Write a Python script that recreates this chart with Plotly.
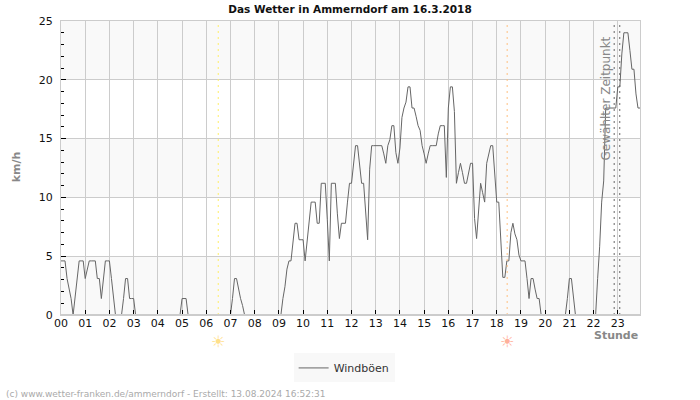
import plotly.graph_objects as go

title = "Das Wetter in Ammerndorf am 16.3.2018"
series_name = "Windböen"
hour_labels = ["%02d" % h for h in range(24)]
y_ticks = [0, 5, 10, 15, 20, 25]
sunrise = 6.495
sunset = 18.43
selected = [22.85, 23.08]

h00 = [4.6,4.6,4.6,3.1,2.2,1.4,0,1.4,3.1,4.6,4.6,4.6]
h01 = [3.1,3.9,4.6,4.6,4.6,4.6,3.1,3.1,1.4,3.1,4.6,4.6]
h02 = [4.6,3.1,1.4,0,0,0,0,1.4,3.1,3.1,1.4,1.4]
h03 = [1.4,0,0,0,0,0,0,0,0,0,0,0]
h04 = [0,0,0,0,0,0,0,0,0,0,0,0]
h05 = [1.4,1.4,1.4,0,0,0,0,0,0,0,0,0]
h06 = [0,0,0,0,0,0,0,0,0,0,0,0]
h07 = [0,1.4,3.1,3.1,2.2,1.4,0.8,0,0,0,0,0]
h08 = [0,0,0,0,0,0,0,0,0,0,0,0]
h09 = [0,0,1.4,2.4,3.9,4.6,4.6,6.4,7.8,7.8,6.4,6.4]
h10 = [6.4,4.6,6.4,7.8,9.6,9.6,9.6,7.8,7.8,11.2,11.2,11.2]
h11 = [8.1,4.6,11.2,11.2,11.2,8.6,6.5,7.8,7.8,7.8,9.6,11.2]
h12 = [11.2,12.9,14.4,14.4,12.9,11.2,11.2,8.6,6.4,12.4,14.4,14.4]
h13 = [14.4,14.4,14.4,14.4,13.7,12.9,14.4,14.9,16.1,16.1,13.8,12.9]
h14 = [14.2,16.8,17.6,18.1,19.4,19.4,17.6,17.6,16.9,16.1,15.7,14.4]
h15 = [13.7,12.9,13.7,14.4,14.4,14.4,14.4,15.4,16.1,16.1,16.1,11.7]
h16 = [17.6,19.4,19.4,17.3,11.2,12.1,12.9,12.1,11.2,11.2,12.1,12.9]
h17 = [12.9,8.2,6.5,8.9,11.2,10.4,9.6,12.9,13.6,14.4,14.4,12.0]
h18 = [9.6,9.6,6.6,3.2,3.2,4.6,4.6,7.0,7.8,6.9,6.4,5.1]
h19 = [4.6,4.6,4.6,3.1,1.4,3.1,3.1,2.2,1.4,1.4,0,0]
h20 = [0,0,0,0,0,0,0,0,0,0,0,1.4]
h21 = [3.1,3.1,1.4,0,0,0,0,0,0,0,0,0]
h22 = [0,0,3.1,5.8,9.6,11.4,17.6,17.6,17.6,17.6,17.6,17.6]
h23 = [19.4,19.4,22.2,24,24,24,22.5,20.9,20.9,18.8,17.6,17.6]

gusts = (h00+h01+h02+h03+h04+h05+h06+h07+h08+h09+h10+h11+
         h12+h13+h14+h15+h16+h17+h18+h19+h20+h21+h22+h23)
times = [i / 12 for i in range(len(gusts))]

GREY = "#cccccc"
fig = go.Figure()
fig.add_trace(go.Scatter(x=times, y=gusts, mode="lines", name=series_name,
                         line=dict(color="#666666", width=1, shape="linear")))

for lo in (0, 10, 20):
    fig.add_shape(type="rect", xref="paper", yref="y", x0=0, x1=1, y0=lo, y1=lo + 5,
                  fillcolor="#f9f9f9", line_width=0, layer="below")

for pos, col in [(sunrise, "#ffee66"), (sunset, "#ffc080"),
                 (selected[0], "#666666"), (selected[1], "#666666")]:
    fig.add_shape(type="line", xref="x", yref="paper", x0=pos, x1=pos, y0=0, y1=1,
                  line=dict(color=col, width=1, dash="2px,4px"), layer="above")
# the zero line of the series sits behind the axis line in the reference
fig.add_shape(type="line", xref="paper", yref="paper", x0=0, x1=1, y0=0, y1=0,
              line=dict(color=GREY, width=2), layer="above")

anns = [
    dict(text="Gewählter Zeitpunkt", xref="paper", yref="paper", x=(606.5-60.5)/580, y=(315-98)/294.5,
         textangle=-90, showarrow=False, xanchor="center", yanchor="middle",
         font=dict(size=12, color="#888888")),
    dict(text="☀", xref="x", yref="paper", x=sunrise, y=-26.5/294.5, showarrow=False,
         xanchor="center", yanchor="middle", font=dict(size=16, color="#ffe08a")),
    dict(text="☀", xref="x", yref="paper", x=sunset, y=-26.5/294.5, showarrow=False,
         xanchor="center", yanchor="middle", font=dict(size=16, color="#ffb09a")),
    dict(text="<b>Stunde</b>", xref="paper", yref="paper", x=(640-60.5)/580, y=-20.5/294.5,
         xanchor="right", yanchor="middle", showarrow=False, font=dict(size=11, color="#888888")),
    dict(text="<b>km/h</b>", xref="paper", yref="paper", x=(15.5-60.5)/580, y=(315-167)/294.5,
         textangle=-90, xanchor="center", yanchor="middle", showarrow=False,
         font=dict(size=11, color="#888888")),
    dict(text="(c) www.wetter-franken.de/ammerndorf - Erstellt: 13.08.2024 16:52:31",
         xref="paper", yref="paper", x=(3-60.5)/580, y=-79/294.5, xanchor="left", yanchor="middle",
         showarrow=False, font=dict(size=9, color="#aaaaaa")),
]

fig.update_layout(
    width=700, height=400, autosize=False,
    margin=dict(l=60.5, r=59.5, t=20.5, b=85, pad=0),
    paper_bgcolor="white", plot_bgcolor="white",
    font=dict(family="DejaVu Sans", size=11, color="#111111"),
    title=dict(text="<b>%s</b>" % title, x=0.5, xanchor="center", y=0.977, yanchor="middle",
               font=dict(size=10.5, color="#111111")),
    showlegend=True,
    legend=dict(x=0.489, xanchor="center", y=-38.5/294.5, yanchor="top", bgcolor="#f8f8f8",
                borderwidth=0, font=dict(size=11, color="#333333"), itemwidth=30),
    annotations=anns,
    xaxis=dict(range=[0, 287/12], tickmode="array", tickvals=list(range(24)), ticktext=hour_labels,
               showgrid=True, gridcolor=GREY, gridwidth=1, ticks="inside", ticklen=5, tickcolor="black",
               tickwidth=1, showline=True, linecolor=GREY, mirror=True, zeroline=False,
               ticklabelstandoff=-2),
    yaxis=dict(range=[0, 25], tickmode="array", tickvals=y_ticks,
               showgrid=True, gridcolor=GREY, gridwidth=1, ticks="inside", ticklen=5, tickcolor="black",
               tickwidth=1, showline=True, linecolor=GREY, mirror=True, zeroline=False,
               ticklabelstandoff=5,
               minor=dict(dtick=1, tick0=0, ticks="inside", ticklen=2.5, tickcolor="black",
                          tickwidth=1, showgrid=False)),
)
fig.write_html("out.html", config=dict(displayModeBar=False),
               post_script="document.body.style.margin='0';")
